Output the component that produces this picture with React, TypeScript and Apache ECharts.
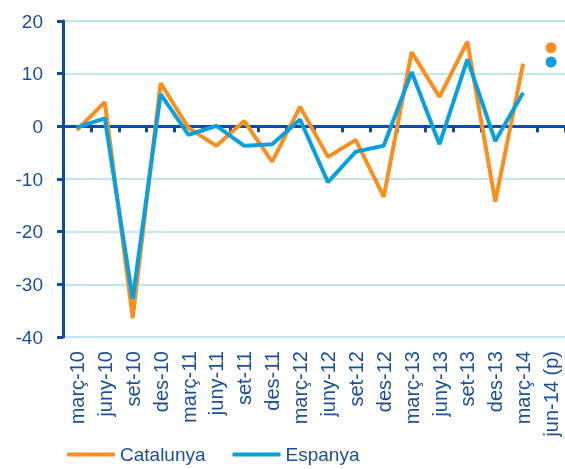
import React, { useEffect, useRef } from "react";
import * as echarts from "echarts";

const categories = [
  "març-10", "juny-10", "set-10", "des-10",
  "març-11", "juny-11", "set-11", "des-11",
  "març-12", "juny-12", "set-12", "des-12",
  "març-13", "juny-13", "set-13", "des-13",
  "març-14", "jun-14 (p)",
];

const catalunya = [-0.7, 4.6, -36.4, 8.2, -0.3, -3.7, 1.0, -6.7, 3.7, -5.8, -2.6, -13.4, 14.1, 5.6, 16.1, -14.3, 11.9, null];
const espanya = [-0.2, 1.5, -32.8, 6.1, -1.6, 0.1, -3.7, -3.4, 1.3, -10.6, -4.8, -3.7, 10.3, -3.4, 12.7, -2.8, 6.4, null];
const catalunyaForecast = [null, null, null, null, null, null, null, null, null, null, null, null, null, null, null, null, null, 14.9];
const espanyaForecast = [null, null, null, null, null, null, null, null, null, null, null, null, null, null, null, null, null, 12.2];

const yTicks = { min: -40, max: 20, interval: 10 };

const ORANGE = "#F7901E";
const BLUE = "#0A9FDD";
const AXIS = "#0F4C9E";
const GRID = "#C3E5F6";
const TEXT = "#1B4F9B";
const FONT = "Liberation Sans, Arial, sans-serif";

export default function App() {
  const ref = useRef<HTMLDivElement>(null);
  useEffect(() => {
    if (!ref.current) return;
    const chart = echarts.init(ref.current, undefined, { renderer: "svg" });
    chart.setOption({
      animation: false,
      grid: { left: 63, right: 0, top: 21, bottom: 132, containLabel: false },
      legend: {
        data: ["Catalunya", "Espanya"],
        left: 62,
        bottom: 0,
        icon: "roundRect",
        itemWidth: 48,
        itemHeight: 4,
        itemGap: 27,
        textStyle: { color: TEXT, fontSize: 19, fontFamily: FONT },
      },
      xAxis: [
        {
          type: "category",
          data: categories,
          position: "bottom",
          axisLine: { show: false, onZero: false },
          axisTick: { show: false },
          axisLabel: {
            rotate: 90,
            margin: 14,
            color: TEXT,
            fontSize: 20,
            fontFamily: FONT,
            interval: 0,
          },
          splitLine: { show: false },
        },
        {
          type: "category",
          data: categories,
          position: "bottom",
          axisLine: { show: true, onZero: true, lineStyle: { color: AXIS, width: 3 } },
          axisTick: { show: true, interval: 0, length: 6, lineStyle: { color: AXIS, width: 3 } },
          axisLabel: { show: false, interval: 0 },
          splitLine: { show: false },
        },
      ],
      yAxis: {
        type: "value",
        min: yTicks.min,
        max: yTicks.max,
        interval: yTicks.interval,
        axisLine: { show: true, lineStyle: { color: AXIS, width: 3 } },
        axisTick: { show: true, length: 6, lineStyle: { color: AXIS, width: 3 } },
        axisLabel: { color: TEXT, fontSize: 19, fontFamily: FONT, margin: 20 },
        splitLine: { show: true, lineStyle: { color: GRID, width: 2 } },
      },
      series: [
        {
          name: "Catalunya",
          type: "line",
          xAxisIndex: 0,
          data: catalunya,
          showSymbol: false,
          symbol: "none",
          lineStyle: { color: ORANGE, width: 4 },
          itemStyle: { color: ORANGE },
          z: 3,
        },
        {
          name: "Espanya",
          type: "line",
          xAxisIndex: 0,
          data: espanya,
          showSymbol: false,
          symbol: "none",
          lineStyle: { color: BLUE, width: 4 },
          itemStyle: { color: BLUE },
          z: 4,
        },
        {
          name: "Catalunya (p)",
          type: "scatter",
          xAxisIndex: 0,
          data: catalunyaForecast,
          symbolSize: 11,
          itemStyle: { color: ORANGE, opacity: 1 },
        },
        {
          name: "Espanya (p)",
          type: "scatter",
          xAxisIndex: 0,
          data: espanyaForecast,
          symbolSize: 11,
          itemStyle: { color: BLUE, opacity: 1 },
        },
      ],
    });
    return () => chart.dispose();
  }, []);
  return (
    <div
      ref={ref}
      style={{ position: "fixed", left: 0, top: 0, width: 565, height: 469 }}
    />
  );
}
